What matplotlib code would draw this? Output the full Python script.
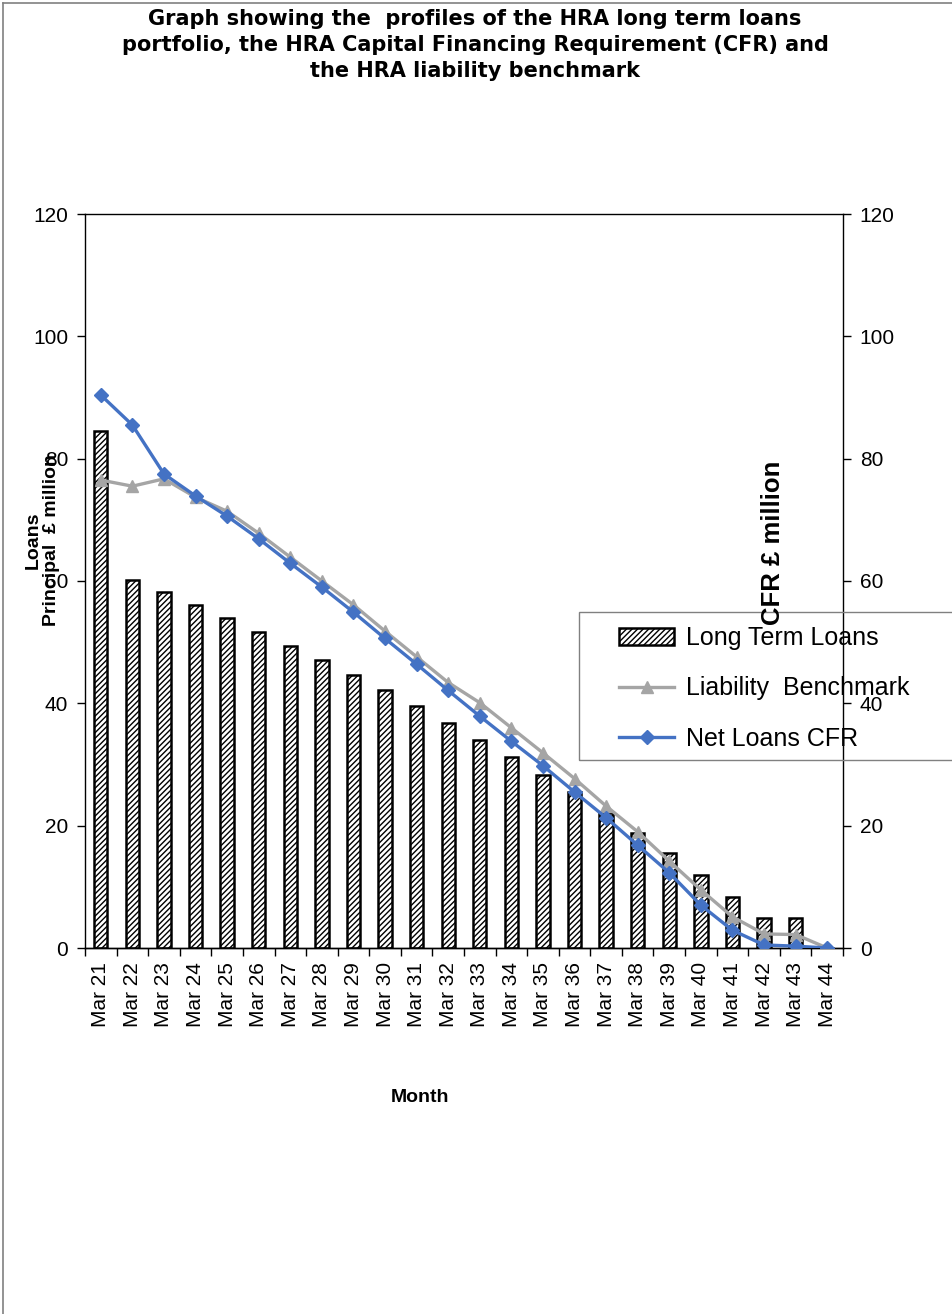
import numpy as np
import matplotlib
matplotlib.use("Agg")
from matplotlib import pyplot as plt
from matplotlib.lines import Line2D
from matplotlib.patches import Rectangle

months = ["Mar 21", "Mar 22", "Mar 23", "Mar 24", "Mar 25", "Mar 26", "Mar 27", "Mar 28",
          "Mar 29", "Mar 30", "Mar 31", "Mar 32", "Mar 33", "Mar 34", "Mar 35", "Mar 36",
          "Mar 37", "Mar 38", "Mar 39", "Mar 40", "Mar 41", "Mar 42", "Mar 43", "Mar 44"]

# long term loans principal (£m) - bars, left axis
loans = [84.5, 60.2, 58.2, 56.1, 53.9, 51.7, 49.4, 47.1, 44.6, 42.1, 39.5, 36.8,
         34.0, 31.2, 28.3, 25.5, 22.0, 18.8, 15.5, 12.0, 8.4, 4.9, 4.9, 0.0]

# liability benchmark (£m) - right axis
benchmark = [76.5, 75.5, 76.7, 73.7, 71.4, 67.8, 63.9, 60.0, 56.1, 51.8, 47.6, 43.4,
             40.1, 36.0, 31.9, 27.7, 23.2, 19.0, 14.2, 9.5, 5.1, 2.3, 2.2, 0.0]

# net loans CFR (£m) - right axis
cfr = [90.4, 85.5, 77.5, 73.9, 70.6, 66.9, 62.9, 59.0, 54.9, 50.6, 46.4, 42.1,
       37.9, 33.8, 29.8, 25.5, 21.3, 16.8, 12.3, 7.0, 2.9, 0.5, 0.3, 0.0]

yticks = [0, 20, 40, 60, 80, 100, 120]

plt.rcParams['font.family'] = ['Liberation Sans', 'DejaVu Sans']
plt.rcParams['hatch.linewidth'] = 1.0

fig = plt.figure(figsize=(9.52, 13.14), dpi=100)
ax = fig.add_axes([85 / 952, 1 - 948 / 1314, 758 / 952, 734 / 1314])
ax2 = ax.twinx()

x = np.arange(len(months))
bars = ax.bar(x, loans, width=0.42, color='white', edgecolor='black', linewidth=1.8,
              hatch='//////', label='Long Term Loans', zorder=2)

l1, = ax2.plot(x, benchmark, color='#A5A5A5', linewidth=2.4, marker='^', markersize=9,
               label='Liability  Benchmark', zorder=3)
l2, = ax2.plot(x, cfr, color='#4472C4', linewidth=2.4, marker='D', markersize=7.5,
               label='Net Loans CFR', zorder=4)

for a in (ax, ax2):
    a.set_ylim(0, 120)
    a.set_yticks(yticks)
    a.tick_params(axis='y', labelsize=15, length=6, width=1, direction='out', pad=6)
    a.set_xlim(-0.5, len(months) - 0.5)
    for s in ('top', 'left', 'right', 'bottom'):
        a.spines[s].set_linewidth(1)

ax.set_xticks(x)
ax.set_xticklabels(months, rotation=90, fontsize=15)
ax.tick_params(axis='x', length=0, pad=10)
ax.set_xticks(np.arange(-0.5, len(months)), minor=True)
ax.tick_params(axis='x', which='minor', length=6, width=1, direction='out')
ax.spines['right'].set_visible(False)
ax2.spines['left'].set_visible(False)
ax2.spines['top'].set_visible(False)

fig.text(42 / 952, 1 - 540 / 1314, "Loans\nPrincipal  £ million", rotation=90,
         ha='center', va='center', fontsize=14, fontweight='bold', multialignment='center',
         linespacing=1.1)
fig.text(773 / 952, 1 - 543 / 1314, "CFR £ million", rotation=90,
         ha='center', va='center', fontsize=18.5, fontweight='bold')

fig.text(475 / 952, 1 - 45 / 1314,
         "Graph showing the  profiles of the HRA long term loans\n"
         "portfolio, the HRA Capital Financing Requirement (CFR) and\n"
         "the HRA liability benchmark",
         ha='center', va='center', fontsize=15, fontweight='bold',
         family='DejaVu Sans', linespacing=1.4)

fig.text(420 / 952, 1 - 1097 / 1314, "Month", ha='center', va='center',
         fontsize=14, fontweight='bold')

# legend without its own frame; the frame runs off the right edge as in the chart
leg = fig.legend(handles=[bars, l1, l2], loc='upper left',
                 bbox_to_anchor=(614 / 952, 1 - 621 / 1314), fontsize=18,
                 frameon=False, borderpad=0.2, labelspacing=1.05, handlelength=2.2,
                 handletextpad=0.5, borderaxespad=0)
fig.add_artist(Rectangle((579 / 952, 1 - 760 / 1314), 400 / 952, 148 / 1314,
                         transform=fig.transFigure, fill=False, edgecolor='#808080',
                         linewidth=1, zorder=1))

# outer chart border (left and top)
fig.add_artist(Line2D([3 / 952, 3 / 952], [0, 1 - 3 / 1314], color='#808080', linewidth=1.2))
fig.add_artist(Line2D([3 / 952, 1], [1 - 3 / 1314, 1 - 3 / 1314], color='#808080', linewidth=1.2))

fig.savefig("out.png", dpi=100)
